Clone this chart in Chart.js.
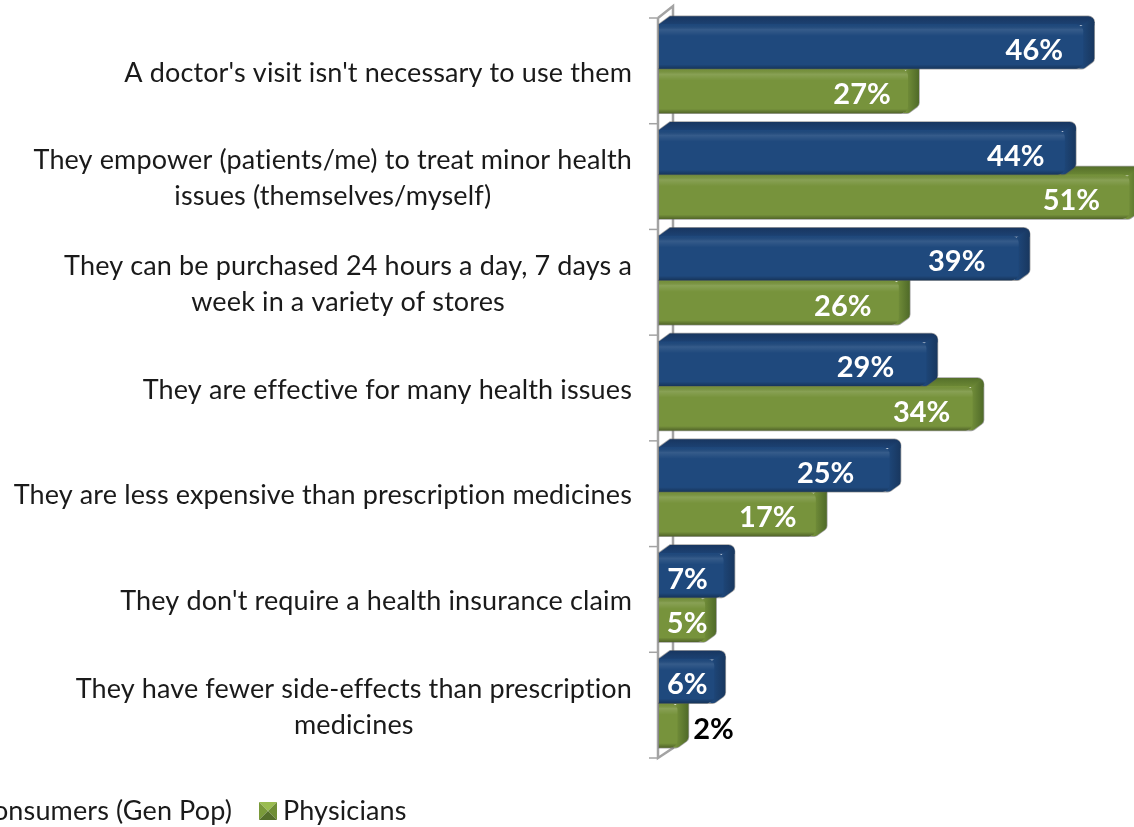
<!DOCTYPE html>
<html>
<head>
<meta charset="utf-8">
<script src="https://cdn.jsdelivr.net/npm/chart.js@4"></script>
<style>
  html, body { margin: 0; padding: 0; background: #fff; overflow: hidden; }
  canvas { display: block; }
</style>
</head>
<body>
<canvas id="chart" width="1134" height="827"></canvas>
<script>
const categories = [
    ["A doctor's visit isn't necessary to use them"],
    ['They empower (patients/me) to treat minor health', 'issues (themselves/myself)'],
    ['They can be purchased 24 hours a day, 7 days a', 'week in a variety of stores'],
    ['They are effective for many health issues'],
    ['They are less expensive than prescription medicines'],
    ["They don't require a health insurance claim"],
    ['They have fewer side-effects than prescription', 'medicines']
];
const consumers = [46, 44, 39, 29, 25, 7, 6];
const physicians = [27, 51, 26, 34, 17, 5, 2];
const seriesNames = ['Consumers (Gen Pop)', 'Physicians'];

// how far each value label sits back from the end of its bar (hand placed in the original)
const consumerLabelInset = [49, 49, 62, 61, 64, 36, 27];
const physicianLabelInset = [46, 58, 56, 51, 48, 18, -36];

const FONT = 'Lato, Carlito, sans-serif';
const DEPTH_X = 11;
const DEPTH_Y = 8;
const AXIS_GRAY = '#a3a3a3';

const faces = [
    { front: '#1f497d', topFrom: '#183660', topTo: '#1c4172', side: '#18375f', light: 'rgba(255,255,255,0.10)', dark: 'rgba(0,0,0,0.28)' },
    { front: '#77933c', topFrom: '#55702a', topTo: '#6a8634', side: '#4f6a28', light: 'rgba(255,255,255,0.13)', dark: 'rgba(0,0,0,0.32)' }
];

function outline(ctx, el) {
    const top = el.y - el.height / 2;
    const bottom = el.y + el.height / 2;
    const right = el.x + DEPTH_X;
    ctx.beginPath();
    ctx.moveTo(el.base, top);
    ctx.lineTo(el.base + DEPTH_X, top - DEPTH_Y);
    ctx.arcTo(right, top - DEPTH_Y, right, bottom - DEPTH_Y, 6);
    ctx.arcTo(right, bottom - DEPTH_Y, el.x, bottom, 5);
    ctx.arcTo(el.x, bottom, el.base, bottom, 5);
    ctx.lineTo(el.base, bottom);
    ctx.closePath();
}

const bar3d = {
    id: 'bar3d',
    beforeDatasetDraw(chart, args) {
        const ctx = chart.ctx;
        const face = faces[args.index];
        args.meta.data.forEach(el => {
            const top = el.y - el.height / 2;
            const bottom = el.y + el.height / 2;
            ctx.save();
            outline(ctx, el);
            ctx.strokeStyle = 'rgba(90,90,90,0.55)';
            ctx.lineWidth = 1.5;
            ctx.stroke();
            ctx.clip();

            const topFace = ctx.createLinearGradient(0, top - DEPTH_Y, 0, top);
            topFace.addColorStop(0, face.topFrom);
            topFace.addColorStop(1, face.topTo);
            ctx.fillStyle = topFace;
            ctx.fillRect(el.base, top - DEPTH_Y - 1, el.x + DEPTH_X - el.base + 1, DEPTH_Y + 2);

            // right face, starts at the front colour so the seam stays soft
            const sideFace = ctx.createLinearGradient(el.x - 3, 0, el.x + DEPTH_X, 0);
            sideFace.addColorStop(0, face.front);
            sideFace.addColorStop(1, face.side);
            ctx.fillStyle = sideFace;
            ctx.beginPath();
            ctx.moveTo(el.x - 4, top + 3);
            ctx.lineTo(el.x + DEPTH_X + 1, top - DEPTH_Y);
            ctx.lineTo(el.x + DEPTH_X + 1, bottom);
            ctx.lineTo(el.x - 4, bottom);
            ctx.closePath();
            ctx.fill();
            ctx.restore();
        });
    },
    afterDatasetDraw(chart, args) {
        const ctx = chart.ctx;
        const face = faces[args.index];
        args.meta.data.forEach(el => {
            const top = el.y - el.height / 2;
            const bottom = el.y + el.height / 2;
            const shade = ctx.createLinearGradient(0, top, 0, bottom);
            shade.addColorStop(0, 'rgba(0,0,0,0)');
            shade.addColorStop(0.12, face.light);
            shade.addColorStop(0.26, 'rgba(255,255,255,0)');
            shade.addColorStop(0.9, 'rgba(0,0,0,0)');
            shade.addColorStop(1, face.dark);
            ctx.fillStyle = shade;
            // same corners as the bar itself, so nothing spills onto the side face
            ctx.beginPath();
            ctx.roundRect(el.base, top, el.x - el.base, bottom - top, [0, 7, 7, 0]);
            ctx.fill();
        });
    },
    afterDatasetsDraw(chart) {
        const ctx = chart.ctx;
        const insets = [consumerLabelInset, physicianLabelInset];
        ctx.save();
        ctx.font = 'bold 29px ' + FONT;
        ctx.textAlign = 'center';
        ctx.textBaseline = 'middle';
        chart.data.datasets.forEach((ds, d) => {
            chart.getDatasetMeta(d).data.forEach((el, i) => {
                // the one label that does not fit inside its bar is black
                ctx.fillStyle = insets[d][i] < 0 ? '#000' : '#fff';
                ctx.fillText(ds.data[i] + '%', el.x - insets[d][i], el.y + 4);
            });
        });
        ctx.restore();
    }
};

const axisAndText = {
    id: 'axisAndText',
    beforeDatasetsDraw(chart) {
        const ctx = chart.ctx;
        const y = chart.scales.y;
        const left = chart.chartArea.left;
        const band = (y.bottom - y.top) / categories.length;
        const first = y.top + 2;
        const last = first + band * categories.length;
        ctx.save();
        ctx.strokeStyle = AXIS_GRAY;
        ctx.lineWidth = 2.5;
        ctx.beginPath();
        ctx.moveTo(left - 1, first);
        ctx.lineTo(left - 1, last);
        ctx.lineTo(left + 14, last - 10);
        ctx.lineTo(left + 14, first - 12);
        ctx.lineTo(left - 1, first);
        ctx.stroke();
        ctx.lineWidth = 1.5;
        for (let i = 0; i <= categories.length; i++) {
            const py = first + band * i;
            ctx.beginPath();
            ctx.moveTo(left - 10, py);
            ctx.lineTo(left - 1, py);
            ctx.stroke();
        }
        ctx.restore();
    },
    afterDraw(chart) {
        const ctx = chart.ctx;
        const y = chart.scales.y;
        ctx.save();
        ctx.font = '27px ' + FONT;
        ctx.letterSpacing = '0.13px';
        ctx.fillStyle = '#1a1a1a';
        ctx.textAlign = 'center';
        ctx.textBaseline = 'middle';
        // block is right aligned to the axis, its lines are centred within it
        categories.forEach((lines, i) => {
            const widest = Math.max(...lines.map(l => ctx.measureText(l).width));
            const cx = 632 - widest / 2;
            const cy = y.getPixelForValue(i) + 4;
            lines.forEach((line, n) => {
                ctx.fillText(line, cx, cy + (n - (lines.length - 1) / 2) * 36);
            });
        });

        // legend, the first entry runs off the left edge as in the original
        ctx.textAlign = 'right';
        ctx.fillText(seriesNames[0], 232, 811);
        ctx.textAlign = 'left';
        ctx.fillText(seriesNames[1], 283, 811);
        const sx = 259, sy = 802, s = 18, m = s / 2;
        const bevel = (color, pts) => {
            ctx.fillStyle = color;
            ctx.beginPath();
            pts.forEach((p, i) => i ? ctx.lineTo(p[0], p[1]) : ctx.moveTo(p[0], p[1]));
            ctx.closePath();
            ctx.fill();
        };
        const mid = [sx + m, sy + m];
        bevel('#9abc50', [[sx, sy], [sx + s, sy], mid]);
        bevel('#7a9a3a', [[sx, sy], mid, [sx, sy + s]]);
        bevel('#6f8e35', [[sx + s, sy], mid, [sx + s, sy + s]]);
        bevel('#556f2b', [[sx, sy + s], mid, [sx + s, sy + s]]);
        ctx.restore();
    }
};

new Chart(document.getElementById('chart').getContext('2d'), {
    type: 'bar',
    data: {
        labels: categories,
        datasets: [
            { label: seriesNames[0], data: consumers, backgroundColor: faces[0].front },
            { label: seriesNames[1], data: physicians, backgroundColor: faces[1].front }
        ]
    },
    options: {
        indexAxis: 'y',
        responsive: false,
        animation: false,
        devicePixelRatio: 1,
        layout: { padding: { left: 659, right: 0, top: 16, bottom: 71 } },
        datasets: {
            bar: {
                categoryPercentage: 0.842,
                barPercentage: 1,
                borderRadius: { topRight: 7, bottomRight: 7 },
                borderSkipped: false
            }
        },
        scales: {
            x: { display: false, min: 0, max: 51.5 },
            y: { display: false }
        },
        plugins: {
            legend: { display: false },
            tooltip: { enabled: false }
        }
    },
    plugins: [bar3d, axisAndText]
});
</script>
</body>
</html>
